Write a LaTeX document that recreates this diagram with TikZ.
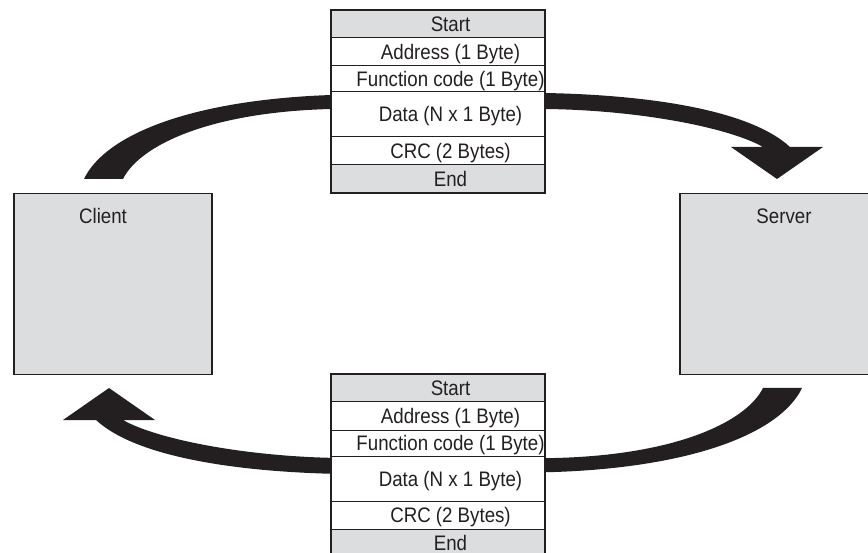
\documentclass[tikz,border=0pt]{standalone}
\usepackage{fontspec}
\setmainfont{Liberation Sans}[FakeStretch=0.89]
\usetikzlibrary{positioning}
\definecolor{ink}{HTML}{231F20}
\definecolor{boxgray}{HTML}{DCDDDF}
% 粗箭头,坐标按像素给出
\newcommand{\flowarrow}[1]{\fill[ink,#1] (84,179) .. controls (105,135) and (190,100) .. (331,95)
  -- (545,93) .. controls (650,95) and (750,110) .. (790,147)
  -- (823,147) -- (777,179) -- (731,147) -- (763,147)
  .. controls (730,128) and (640,110) .. (545,109)
  -- (331,109) .. controls (210,112) and (140,145) .. (123,179) -- cycle;}
\begin{document}
\begin{tikzpicture}[x=1pt,y=-1pt,
    big/.style={font=\fontsize{21}{23}\selectfont,text=ink},
    box/.style={draw=ink,line width=1.5pt,fill=boxgray,minimum width=198,minimum height=181,anchor=north west},
    row/.style={big,draw=ink,line width=1pt,fill=white,minimum width=214,minimum height=#1,
      inner sep=0pt,outer sep=0pt,text height=15pt,text depth=0pt,
      execute at begin node={\hspace*{25pt}}}]
	\path[use as bounding box,clip] (0,0) rectangle (868,553);
	% 两个端点
	\node[box] (client) at (13,193) {};
	\node[big] (clientlbl) at (103,216) {Client};
	\node[box,minimum width=210] (server) at (679,193) {};
	\node[big] (serverlbl) at (784,216) {Server};
	% 箭头在报文框的后面
	\flowarrow{}
	\flowarrow{rotate around={180:(443,283.5)}}
	% 报文框,上下各一个
	\foreach \f/\y in {1/10,2/374}{
		\node[row=28,fill=boxgray,anchor=north] (start\f) at (438,\y) {Start};
		\node[row=28,below=0pt of start\f] (addr\f) {Address (1 Byte)};
		\node[row=26,below=0pt of addr\f] (func\f) {Function code (1 Byte)};
		\node[row=45,below=0pt of func\f] (data\f) {Data (N x 1 Byte)};
		\node[row=28,below=0pt of data\f] (crc\f) {CRC (2 Bytes)};
		\node[row=28,fill=boxgray,below=0pt of crc\f] (end\f) {End};
		\draw[ink,line width=1.5pt] (start\f.north west) rectangle (end\f.south east);
	}
\end{tikzpicture}
\end{document}
